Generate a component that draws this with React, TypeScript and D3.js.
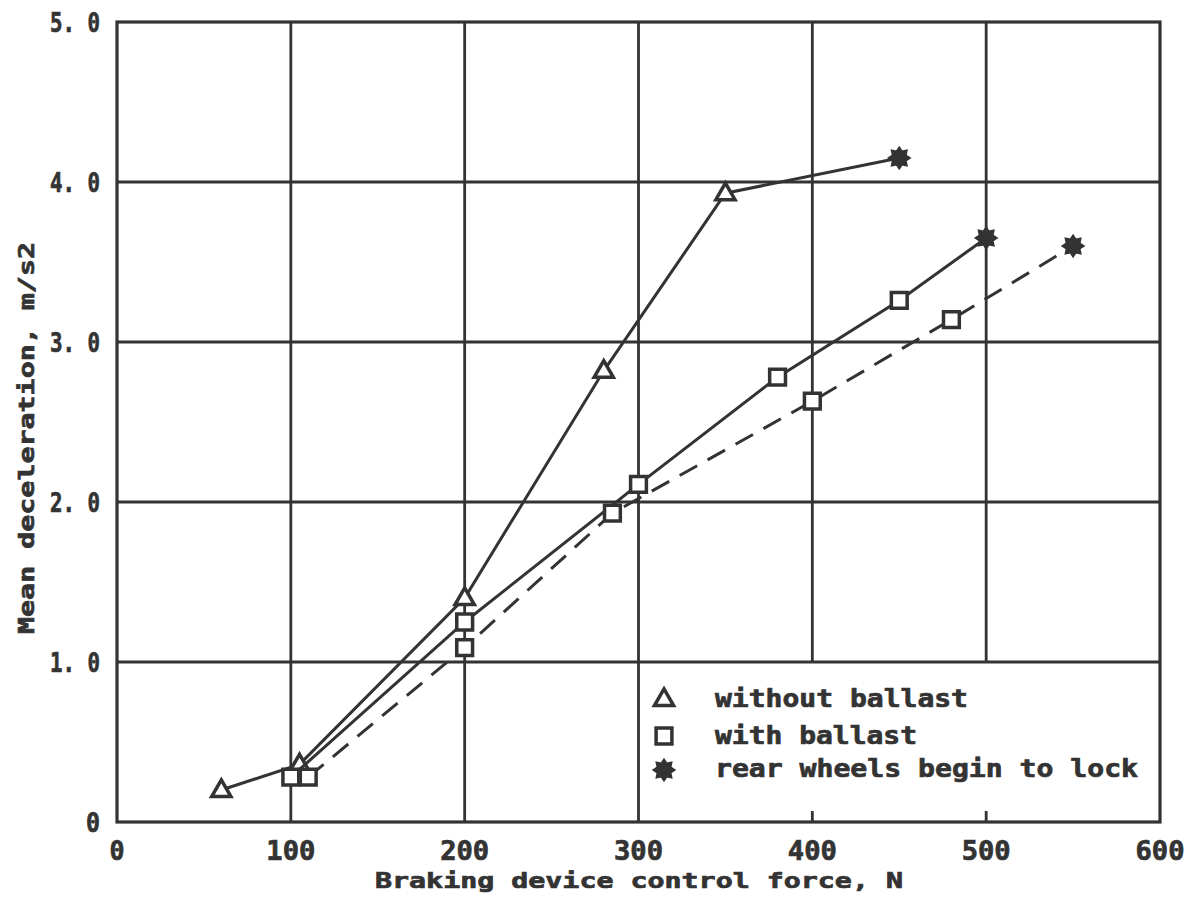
import React from 'react';
import * as d3 from 'd3';

// chart values
const noBallastX = [60, 105, 200, 280, 350, 450];
const noBallastY = [0.2, 0.36, 1.4, 2.82, 3.93, 4.15];

const ballastX = [100, 200, 300, 380, 450, 500];
const ballastY = [0.28, 1.25, 2.11, 2.78, 3.26, 3.65];

const ballastDashX = [110, 200, 285, 400, 480, 550];
const ballastDashY = [0.28, 1.09, 1.93, 2.63, 3.14, 3.6];

const xTicks = [0, 100, 200, 300, 400, 500, 600];
const yTicks = [0, 1, 2, 3, 4, 5];
const yTickLabels = ['0', '1. 0', '2. 0', '3. 0', '4. 0', '5. 0'];

const legendLabels = ['without ballast', 'with ballast', 'rear wheels begin to lock'];

const ink = '#333';
const font = '"DejaVu Sans Mono", "Liberation Mono", monospace';

const W = 1198;
const H = 902;

const x = d3.scaleLinear().domain([0, 600]).range([117, 1160]);
const y = d3.scaleLinear().domain([0, 5]).range([822, 22]);

const line = d3.line<[number, number]>()
  .x(d => x(d[0]))
  .y(d => y(d[1]));

const zip = (xs: number[], ys: number[]) => xs.map((v, i) => [v, ys[i]] as [number, number]);

const triPath = d3.symbol(d3.symbolTriangle, 160)() as string;
const sqPath = d3.symbol(d3.symbolSquare, 250)() as string;

// spiky burst used for the "rear wheels begin to lock" points
const starPts: [number, number][] = d3.range(16).map(i => [
  (i / 16) * Math.PI * 2,
  i % 2 === 0 ? 10.5 : 7,
]);
const starPath = (d3.lineRadial<[number, number]>()
  .angle(d => d[0])
  .radius(d => d[1])
  .curve(d3.curveLinearClosed)(starPts)) as string;

function Tri({ cx, cy }: { cx: number; cy: number }) {
  return <path d={triPath} transform={`translate(${cx},${cy + 1})`} fill="white" stroke={ink} strokeWidth={3.5} />;
}
function Sq({ cx, cy }: { cx: number; cy: number }) {
  return <path d={sqPath} transform={`translate(${cx},${cy})`} fill="white" stroke={ink} strokeWidth={3.5} />;
}
function Star({ cx, cy }: { cx: number; cy: number }) {
  return <path d={starPath} transform={`translate(${cx},${cy})`} fill={ink} stroke={ink} strokeWidth={2} />;
}

function Series({ xs, ys, marker, dash }: { xs: number[]; ys: number[]; marker: 'tri' | 'sq'; dash?: string }) {
  const pts = zip(xs, ys);
  return (
    <g>
      <path d={line(pts) as string} fill="none" stroke={ink} strokeWidth={3} strokeDasharray={dash} />
      {pts.map((p, i) => {
        const cx = x(p[0]);
        const cy = y(p[1]);
        if (i === pts.length - 1) return <Star key={i} cx={cx} cy={cy} />;
        return marker === 'tri' ? <Tri key={i} cx={cx} cy={cy} /> : <Sq key={i} cx={cx} cy={cy} />;
      })}
    </g>
  );
}

export default function App() {
  const textStyle = { fontFamily: font, fontWeight: 700, fill: ink, stroke: ink, strokeWidth: 0.7 } as const;
  return (
    <svg width={W} height={H} style={{ position: 'absolute', left: 0, top: 0, background: 'white' }}>
      {/* grid: 400 and 500 verticals stop at the legend cell */}
      {xTicks.slice(1, -1).map(t => (
        <line key={'gx' + t} x1={x(t)} x2={x(t)} y1={y(5)} y2={t > 300 ? y(1) : y(0)} stroke={ink} strokeWidth={2.8} />
      ))}
      {[400, 500].map(t => (
        <line key={'tk' + t} x1={x(t)} x2={x(t)} y1={y(0) - 11} y2={y(0)} stroke={ink} strokeWidth={2.8} />
      ))}
      {yTicks.slice(1, -1).map(t => (
        <line key={'gy' + t} x1={x(0)} x2={x(600)} y1={y(t)} y2={y(t)} stroke={ink} strokeWidth={2.8} />
      ))}
      <rect x={x(0)} y={y(5)} width={x(600) - x(0)} height={y(0) - y(5)} fill="none" stroke={ink} strokeWidth={3.2} />

      <Series xs={noBallastX} ys={noBallastY} marker="tri" />
      <Series xs={ballastX} ys={ballastY} marker="sq" />
      <Series xs={ballastDashX} ys={ballastDashY} marker="sq" dash="20 12" />

      {/* tick labels */}
      {yTicks.map((t, i) => {
        const lab = yTickLabels[i];
        return (
          <text key={'yl' + t} x={100} y={y(t) + 10} textAnchor="end" fontSize={26} style={textStyle}
            textLength={lab.length === 1 ? 14 : 50} lengthAdjust="spacingAndGlyphs">{lab}</text>
        );
      })}
      {xTicks.map(t => {
        const lab = String(t);
        return (
          <text key={'xl' + t} x={x(t)} y={860} textAnchor="middle" fontSize={26} style={textStyle}
            textLength={lab.length === 1 ? 15 : 49} lengthAdjust="spacingAndGlyphs">{lab}</text>
        );
      })}

      {/* axis titles */}
      <text x={639} y={888} textAnchor="middle" fontSize={21} style={textStyle}
        textLength={528} lengthAdjust="spacingAndGlyphs">Braking device control force, N</text>
      <text transform="translate(34,438) rotate(-90)" textAnchor="middle" fontSize={22} style={textStyle}
        textLength={392} lengthAdjust="spacingAndGlyphs">Mean deceleration, m/s2</text>

      {/* legend */}
      <Tri cx={664} cy={699} />
      <Sq cx={664} cy={736} />
      <Star cx={664} cy={770} />
      {legendLabels.map((lab, i) => (
        <text key={lab} x={715} y={[707, 744, 777][i]} fontSize={24} style={textStyle}
          textLength={lab.length * 17 - 2} lengthAdjust="spacingAndGlyphs">{lab}</text>
      ))}
    </svg>
  );
}
